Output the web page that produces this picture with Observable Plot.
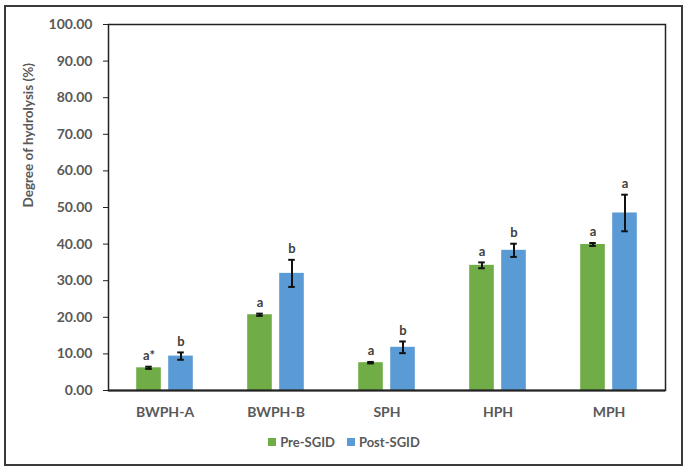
<!DOCTYPE html>
<html>
<head>
<meta charset="utf-8">
<script src="https://cdn.jsdelivr.net/npm/d3@7"></script>
<script src="https://cdn.jsdelivr.net/npm/@observablehq/plot@0.6"></script>
<style>
  html, body { margin: 0; padding: 0; background: #fff; }
  body { width: 688px; height: 473px; position: relative; overflow: hidden; font-family: Lato, "Noto Sans", sans-serif; }
  #border { position: absolute; left: 4px; top: 5px; width: 675px; height: 457px; border: 2px solid #3a3a3a; pointer-events: none; }
  #chart { position: absolute; left: 0; top: 0; }
  #legend { position: absolute; left: 0; top: 434px; width: 688px; text-align: center; font-size: 13px; font-weight: bold; color: #595959; line-height: 16px; }
  #legend span.sw { display: inline-block; width: 8px; height: 8px; margin-right: 4px; vertical-align: 1px; }
  #legend span.item { margin: 0 6px; }
</style>
</head>
<body>
<div id="chart"></div>
<div id="legend"></div>
<div id="border"></div>
<script>
const categories = ["BWPH-A", "BWPH-B", "SPH", "HPH", "MPH"];
const series = ["Pre-SGID", "Post-SGID"];
const preValues = [6.2, 20.7, 7.6, 34.2, 39.9];
const preErrors = [0.3, 0.3, 0.2, 0.8, 0.4];
const postValues = [9.4, 32.0, 11.8, 38.3, 48.5];
const postErrors = [1.0, 3.7, 1.6, 1.8, 5.0];
const preLetters = ["a*", "a", "a", "a", "a"];
const postLetters = ["b", "b", "b", "b", "a"];
const yTicks = [0, 10, 20, 30, 40, 50, 60, 70, 80, 90, 100];
const yLabel = "Degree of hydrolysis (%)";
const colors = ["#70AD47", "#5B9BD5"];

const W = 688, H = 430, mL = 108, mR = 23, mT = 24, mB = 40;
const bw = (W - mL - mR) / categories.length;
const half = bw / 2;

function rows(values, errors, letters) {
  return categories.map((c, i) => ({cat: c, v: values[i], lo: values[i] - errors[i], hi: values[i] + errors[i], lab: letters[i]}));
}
const pre = rows(preValues, preErrors, preLetters);
const post = rows(postValues, postErrors, postLetters);

// bar offsets relative to category center
const barDefs = [
  {data: pre, color: colors[0], left: -28.5, right: -3.5},
  {data: post, color: colors[1], left: 3.5, right: 28.5}
];

const marks = [];
for (const b of barDefs) {
  const c = (b.left + b.right) / 2;
  marks.push(Plot.barY(b.data, {x: "cat", y: "v", fill: b.color, insetLeft: half + b.left, insetRight: half - b.right}));
  marks.push(Plot.ruleX(b.data, {x: "cat", y1: "lo", y2: "hi", dx: c, stroke: "#111", strokeWidth: 2}));
  marks.push(Plot.tickY(b.data, {x: "cat", y: "hi", stroke: "#111", strokeWidth: 2, insetLeft: half + c - 3.5, insetRight: half - c - 3.5}));
  marks.push(Plot.tickY(b.data, {x: "cat", y: "lo", stroke: "#111", strokeWidth: 2, insetLeft: half + c - 3.5, insetRight: half - c - 3.5}));
  marks.push(Plot.text(b.data, {x: "cat", y: "hi", text: "lab", dx: c, dy: -11, fontSize: 13, fontWeight: "bold", fill: "#404040"}));
}

const chart = Plot.plot({
  width: W, height: H,
  marginLeft: mL, marginRight: mR, marginTop: mT, marginBottom: mB,
  style: {fontFamily: "Lato, 'Noto Sans', sans-serif", background: "transparent"},
  x: {domain: categories, padding: 0, label: null},
  y: {domain: [0, 100], label: null},
  marks: [
    ...marks,
    Plot.frame({stroke: "#222", strokeWidth: 1.5}),
    Plot.ruleY([0], {stroke: "#222", strokeWidth: 2}),
    Plot.axisY({ticks: yTicks, tickFormat: d3.format(".2f"), tickSize: 5, tickPadding: 11, stroke: "#222", fill: "#595959", fontSize: 14, fontWeight: "bold", label: null}),
    Plot.axisX({tickSize: 0, tickPadding: 17, fill: "#595959", fontSize: 14, fontWeight: "bold", label: null}),
    Plot.text([yLabel], {frameAnchor: "left", dx: -80, rotate: -90, fontSize: 13.5, fontWeight: "bold", fill: "#595959"})
  ]
});
document.getElementById("chart").appendChild(chart);

const legend = document.getElementById("legend");
series.forEach((s, i) => {
  const item = document.createElement("span");
  item.className = "item";
  const sw = document.createElement("span");
  sw.className = "sw";
  sw.style.background = colors[i];
  item.appendChild(sw);
  item.appendChild(document.createTextNode(s));
  legend.appendChild(item);
});
</script>
</body>
</html>
